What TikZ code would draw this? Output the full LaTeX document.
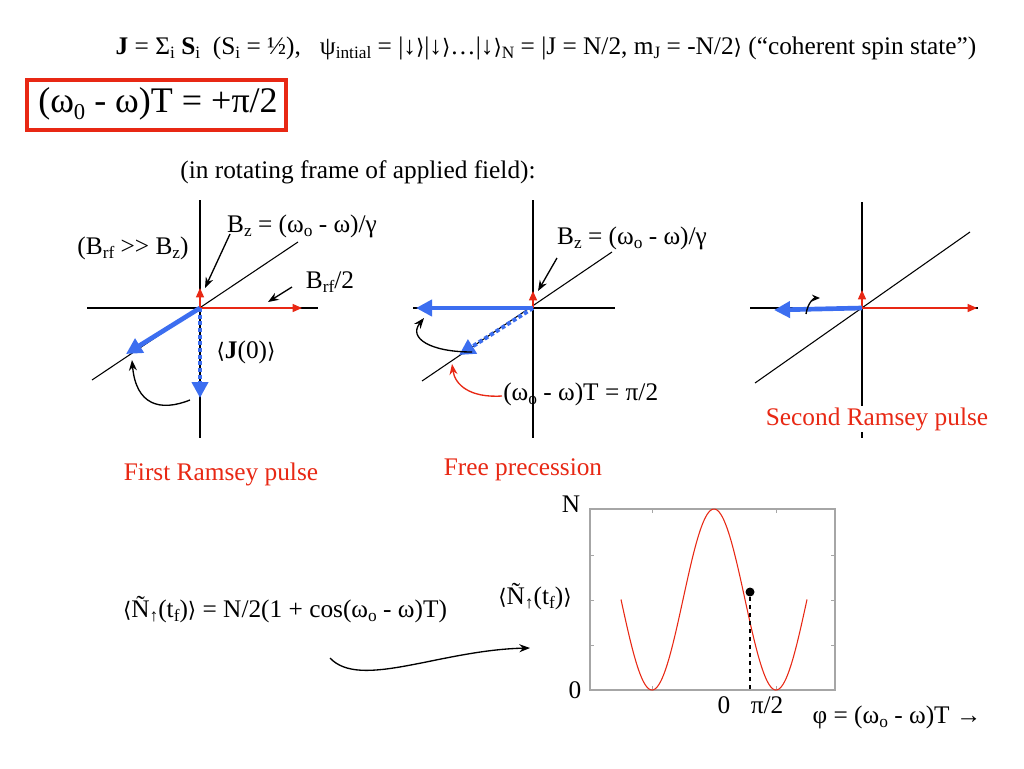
\documentclass[tikz,border=0pt]{standalone}
\usepackage{fontspec}
\setmainfont{Liberation Serif}
\newfontfamily\djv{DejaVu Serif}
\usetikzlibrary{arrows.meta}
\newcommand{\lo}[1]{\raisebox{-0.35ex}{\fontsize{13}{13}\selectfont #1}}
\newcommand{\la}{{\djv\fontsize{16}{16}\selectfont ⟨}}
\newcommand{\ra}{{\djv\fontsize{16}{16}\selectfont ⟩}}
\definecolor{rd}{RGB}{232,40,20}
\definecolor{bl}{RGB}{60,110,240}
\begin{document}
\begin{tikzpicture}[x=0.75pt,y=-0.75pt,
  txt/.style={font=\fontsize{19}{22}\selectfont,inner sep=0pt},
  axis/.style={draw=black,line width=0.8pt},
  redarr/.style={draw=rd,line width=1pt,-{Triangle[length=7pt,width=6pt]}},
  bluearr/.style={draw=bl,line width=3.5pt,-{Triangle[length=12pt,width=12pt]}},
  bluedash/.style={draw=bl,line width=3pt,dash pattern=on 3pt off 2pt,-{Triangle[length=12pt,width=12pt]}},
  blk/.style={draw=black,line width=1pt,-{Stealth[length=8pt,width=6pt]}}]
\useasboundingbox (0,0) rectangle (1024,768);
\fill[white] (0,0) rectangle (1024,768);
% top line
\node[txt] (top) at (546,48) {\textbf{J} = Σ\lo{i} \textbf{S}\lo{i}\ \ (S\lo{i} = ½),\ \ \ ψ\lo{intial} = |↓\ra|↓\ra…|↓\ra\lo{N} = |J = N/2, m\lo{J} = -N/2\ra\ (“coherent spin state”)};
\node[draw=rd,line width=2.5pt,minimum width=259pt*0.75,minimum height=50pt*0.75,inner sep=0pt] (box) at (156.5,105) {};
\node[inner sep=0pt,anchor=west,font=\fontsize{27}{30}\selectfont] (eq) at (38,104) {(ω\raisebox{-0.4ex}{\fontsize{17}{17}\selectfont 0} - ω)T = +π/2};
\node[txt] (rot) at (358,172) {(in rotating frame of applied field):};
% diagram 1
\coordinate (o1) at (200,308);
\coordinate (v1a) at (200,200); \coordinate (v1b) at (200,438);
\coordinate (h1a) at (87,308); \coordinate (h1b) at (318,308);
\coordinate (d1a) at (92,380); \coordinate (d1b) at (298,242);
\draw[axis] (v1a) -- (v1b); \draw[axis] (h1a) -- (h1b); \draw[axis] (d1a) -- (d1b);
\coordinate (r1u) at (200,288); \coordinate (r1r) at (302,308);
\draw[redarr] (o1) -- (r1u); \draw[redarr] (o1) -- (r1r);
\coordinate (b1) at (126,354); \coordinate (b1d) at (200,398);
\draw[bluedash] (o1) -- (b1d);
\draw[bluearr] (o1) -- (b1);
\node[txt] (bz1) at (302,226) {B\lo{z} = (ω\lo{o} - ω)/γ};
\coordinate (bz1s) at (230,234); \coordinate (bz1e) at (205,288);
\draw[blk] (bz1s) -- (bz1e);
\node[txt] (brz) at (133,248) {(B\lo{rf} >{}> B\lo{z})};
\node[txt] (brf) at (330,282) {B\lo{rf}/2};
\coordinate (brfs) at (292,287); \coordinate (brfe) at (268,302);
\draw[blk] (brfs) -- (brfe);
\node[txt] (j0) at (246,352) {\la\textbf{J}(0)\ra};
\coordinate (c1s) at (190,400); \coordinate (c1e) at (132,360);
\draw[blk] (c1s) .. controls (160,412) and (136,405) .. (c1e);
\node[txt,text=rd] (first) at (221,474) {First Ramsey pulse};
% diagram 2
\coordinate (o2) at (533,308);
\coordinate (v2a) at (533,200); \coordinate (v2b) at (533,438);
\coordinate (h2a) at (413,308); \coordinate (h2b) at (615,308);
\coordinate (d2a) at (422,381); \coordinate (d2b) at (612,252);
\draw[axis] (v2a) -- (v2b); \draw[axis] (h2a) -- (h2b); \draw[axis] (d2a) -- (d2b);
\coordinate (r2u) at (533,291);
\draw[redarr] (o2) -- (r2u);
\coordinate (b2) at (416,308); \coordinate (b2d) at (459,355);
\draw[bluedash] (o2) -- (b2d);
\draw[bluearr] (o2) -- (b2);
\node[txt] (bz2) at (632,238) {B\lo{z} = (ω\lo{o} - ω)/γ};
\coordinate (bz2s) at (557,258); \coordinate (bz2e) at (538,291);
\draw[blk] (bz2s) -- (bz2e);
\coordinate (c2s) at (472,352); \coordinate (c2e) at (424,318);
\draw[blk] (c2s) .. controls (430,352) and (408,338) .. (c2e);
\coordinate (rc2s) at (502,396); \coordinate (rc2e) at (452,364);
\draw[draw=rd,line width=1pt,-{Stealth[length=8pt,width=6pt]}] (rc2s) .. controls (470,398) and (455,385) .. (rc2e);
\node[txt,anchor=west] (ph2) at (503,394) {(ω\lo{o} - ω)T = π/2};
\node[txt,text=rd] (free) at (523,470) {Free precession};
% diagram 3
\coordinate (o3) at (862,308);
\coordinate (v3a) at (862,202); \coordinate (v3b) at (862,438);
\coordinate (h3a) at (750,308); \coordinate (h3b) at (978,308);
\coordinate (d3a) at (755,383); \coordinate (d3b) at (970,232);
\draw[axis] (v3a) -- (v3b); \draw[axis] (h3a) -- (h3b); \draw[axis] (d3a) -- (d3b);
\coordinate (r3u) at (862,290); \coordinate (r3r) at (977,308);
\draw[redarr] (o3) -- (r3u); \draw[redarr] (o3) -- (r3r);
\coordinate (b3) at (774,310);
\draw[bluearr] (o3) -- (b3);
\coordinate (c3s) at (806,314); \coordinate (c3e) at (820,298);
\draw[draw=black,line width=1pt,-{Stealth[length=6pt,width=5pt]}] (c3s) .. controls (808,302) and (814,298) .. (c3e);
\node[txt,text=rd,fill=white,inner sep=1pt] (second) at (877,419) {Second Ramsey pulse};
% plot
\draw[draw=gray!70,line width=0.8pt] (590,509) rectangle (835,690);
\foreach \yy in {555,600,645} {\draw[gray!70] (590,\yy) -- (594,\yy); \draw[gray!70] (835,\yy) -- (831,\yy);}
\foreach \xx in {652,776} {\draw[gray!70] (\xx,509) -- (\xx,513); \draw[gray!70] (\xx,690) -- (\xx,686);}
\draw[draw=rd,line width=0.8pt,domain=-93:93,samples=150,smooth] plot ({714+\x},{599.5-90.5*cos(2.9032*\x)});
\node[circle,fill=black,inner sep=0pt,minimum size=9pt*0.75] (dot) at (750,592) {};
\coordinate (dotb) at (750,690);
\draw[dashed,line width=0.8pt] (dot) -- (dotb);
\node[txt] (nl) at (571,504) {N};
\node[txt] (zl) at (575,690) {0};
\node[txt] (zx) at (724,705) {0};
\node[txt] (pix) at (767,705) {π/2};
\node[txt] (phil) at (897,717) {φ = (ω\lo{o} - ω)T →};
\node[txt] (nt) at (535,597) {\la Ñ\lo{↑}(t\lo{f})\ra};
\node[txt] (form) at (285,610) {\la Ñ\lo{↑}(t\lo{f})\ra\ = N/2(1 + cos(ω\lo{o} - ω)T)};
\coordinate (fs) at (330,658); \coordinate (fe) at (530,648);
\draw[blk] (fs) .. controls (360,690) and (440,650) .. (fe);
\end{tikzpicture}
\end{document}
